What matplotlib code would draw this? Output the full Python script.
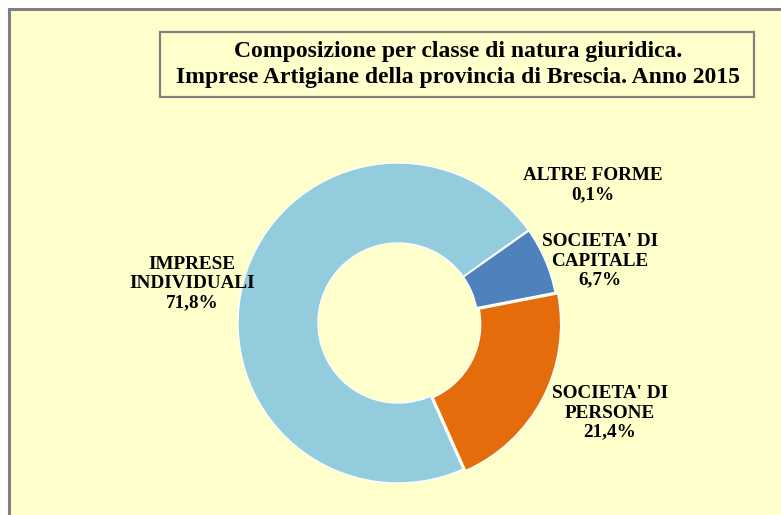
import matplotlib
matplotlib.use("Agg")
import matplotlib.pyplot as plt
import matplotlib.patches as mpatches

# dati
categorie = ["ALTRE FORME", "SOCIETA' DI\nCAPITALE", "SOCIETA' DI\nPERSONE", "IMPRESE\nINDIVIDUALI"]
quote = [0.1, 6.7, 21.4, 71.8]
colori = ["#8064A2", "#4F81BD", "#E46C0A", "#93CDDD"]
titolo = "Composizione per classe di natura giuridica.\nImprese Artigiane della provincia di Brescia. Anno 2015"

W, H = 781, 515
fig = plt.figure(figsize=(W / 100, H / 100), dpi=100)
fig.patch.set_facecolor("white")
ax = fig.add_axes([0, 0, 1, 1])
ax.set_xlim(0, W)
ax.set_ylim(0, H)
ax.set_aspect("equal")
ax.axis("off")

# sfondo e cornice
ax.add_patch(mpatches.Rectangle((8.5, -5), W + 10, H - 8.5 + 5, facecolor="#FFFFCC",
                                edgecolor="#808080", linewidth=2.2, zorder=0))

# ciambella
cx, cy, R = 398, H - 323, 160
ax.pie(quote, colors=colori, startangle=35.5, counterclock=False,
       center=(cx, cy), radius=R, explode=[0, 0, 3, 0],
       wedgeprops=dict(width=80, edgecolor="white", linewidth=1.0), frame=True)
ax.set_xlim(0, W)
ax.set_ylim(0, H)
ax.axis("off")

# riquadro del titolo
ax.add_patch(mpatches.Rectangle((160, H - 97), 594, 65, facecolor="#FFFFCC",
                                edgecolor="#808080", linewidth=1.6, zorder=3))
ax.text(458, H - 64.5, titolo, ha="center", va="center", fontsize=17,
        fontweight="bold", family="Liberation Serif", linespacing=1.25, zorder=4)

# etichette
pos = [(593, H - 185.5), (600, H - 261), (610, H - 413), (192, H - 284)]
for nome, q, (x, y) in zip(categorie, quote, pos):
    testo = nome + "\n" + f"{q:.1f}".replace(".", ",") + "%"
    ax.text(x, y, testo, ha="center", va="center", fontsize=13.8,
            fontweight="bold", family="Liberation Serif", linespacing=1.17)

fig.savefig("out.png", dpi=100)
